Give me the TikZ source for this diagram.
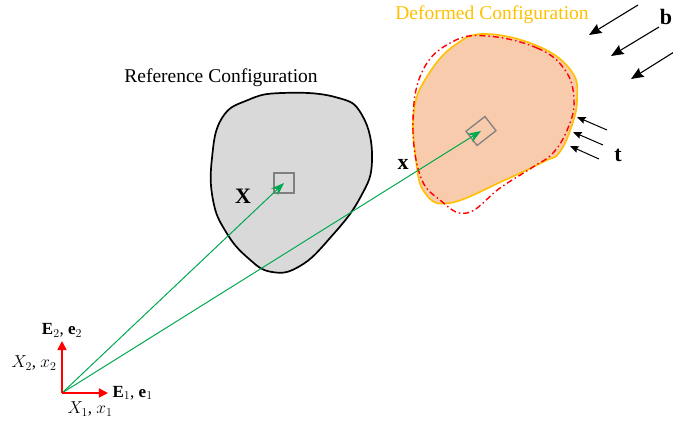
\documentclass[tikz,border=0pt]{standalone}
\usepackage{fontspec}
\setmainfont{Liberation Serif}
\usepackage{tikz}
\usetikzlibrary{arrows.meta, positioning, calc}
\definecolor{refgray}{RGB}{217, 217, 217}
\definecolor{defpeach}{RGB}{248, 203, 173}
\definecolor{defgold}{RGB}{255, 192, 0}
\definecolor{posgreen}{RGB}{0, 168, 80}
\definecolor{axisred}{RGB}{255, 0, 0}
\definecolor{markgray}{RGB}{128, 128, 128}
\tikzset{
  >=Stealth,
  posarrow/.style={-{Stealth[length=4.6mm, width=3.4mm]}, line width=1pt, posgreen},
  axisarrow/.style={-{Triangle[length=3.2mm, width=3.2mm]}, line width=1.7pt, axisred},
  bodyarrow/.style={-{Stealth[length=4.4mm, width=3.6mm, inset=0.6mm]}, line width=1.1pt, black},
  tractarrow/.style={-{Stealth[length=3mm, width=2.4mm, inset=0.4mm]}, line width=1pt, black},
  biglabel/.style={font=\fontsize{19.5}{22}\selectfont},
  veclabel/.style={font=\fontsize{22}{25}\selectfont\bfseries},
  axislabel/.style={font=\fontsize{17}{20}\selectfont}
}

\begin{document}
\begin{tikzpicture}[x=1pt, y=-1pt]
    \useasboundingbox (0,0) rectangle (673,421);

    % reference body
    \draw[line width=1.7pt, fill=refgray] plot[smooth cycle, tension=0.75] coordinates {
        (282,93) (335,97) (362,115) (372,160) (360,198) (330,238) (300,266) (272,272)
        (248,258) (226,232) (213,200) (212,158) (222,118) (248,100)};
    \node (refname) [biglabel] at (221,78) {Reference Configuration};

    % deformed body
    \draw[line width=1.6pt, defgold, fill=defpeach] plot[smooth cycle, tension=0.7] coordinates {
        (487,34) (540,47) (572,72) (577,100) (571,128) (559,153) (545,161)
        (505,180) (450,203) (425,193) (416,160) (414,110) (428,75) (455,45)};
    \draw[line width=1.4pt, axisred, dash pattern=on 6pt off 3pt on 1.5pt off 3pt] plot[smooth cycle, tension=0.7] coordinates {
        (487,36) (537,48) (565,70) (574,100) (568,128) (553,153) (533,167)
        (500,188) (467,213) (440,200) (420,175) (413,120) (423,70) (452,42)};
    \node (defname) [biglabel, defgold] at (492,15) {Deformed Configuration};

    % material points
    \node (refpt) [draw=markgray, line width=1.3pt, minimum width=20pt, minimum height=20pt, inner sep=0pt] at (284,183) {};
    \node (defpt) [draw=markgray, line width=1.3pt, minimum width=24pt, minimum height=18pt, inner sep=0pt, rotate=38] at (481,131) {};

    % frame
    \coordinate (O) at (62,393);
    \coordinate (E1) at (108,393);
    \coordinate (E2) at (62,341);
    \draw[posarrow] (O) -- (refpt.center);
    \draw[posarrow] (O) -- (defpt.center);
    \draw[axisarrow] (O) -- (E1);
    \draw[axisarrow] (O) -- (E2);
    \node (e1lab) [axislabel, right=1pt of E1] {$\mathbf{E}_1$, $\mathbf{e}_1$};
    \node (e2lab) [axislabel, above=0pt of E2] {$\mathbf{E}_2$, $\mathbf{e}_2$};
    \node (x1lab) [axislabel] at (90,409) {$X_1$, $x_1$};
    \node (x2lab) [axislabel] at (34,363) {$X_2$, $x_2$};
    \node (Xlab) [veclabel] at (243,196) {X};
    \node (xlab) [veclabel] at (403,164) {x};

    % body forces
    \coordinate (b1s) at (638,5);
    \coordinate (b1e) at (589,35);
    \coordinate (b2s) at (659,27);
    \coordinate (b2e) at (611,56);
    \coordinate (b3s) at (674,52);
    \coordinate (b3e) at (631,79);
    \draw[bodyarrow] (b1s) -- (b1e);
    \draw[bodyarrow] (b2s) -- (b2e);
    \draw[bodyarrow] (b3s) -- (b3e);
    \node (blab) [veclabel] at (666,17) {b};

    % tractions
    \coordinate (t1s) at (607,130);
    \coordinate (t1e) at (577,117);
    \coordinate (t2s) at (603,145);
    \coordinate (t2e) at (573,132);
    \coordinate (t3s) at (599,159);
    \coordinate (t3e) at (570,146);
    \draw[tractarrow] (t1s) -- (t1e);
    \draw[tractarrow] (t2s) -- (t2e);
    \draw[tractarrow] (t3s) -- (t3e);
    \node (tlab) [veclabel] at (618,155) {t};
\end{tikzpicture}
\end{document}
